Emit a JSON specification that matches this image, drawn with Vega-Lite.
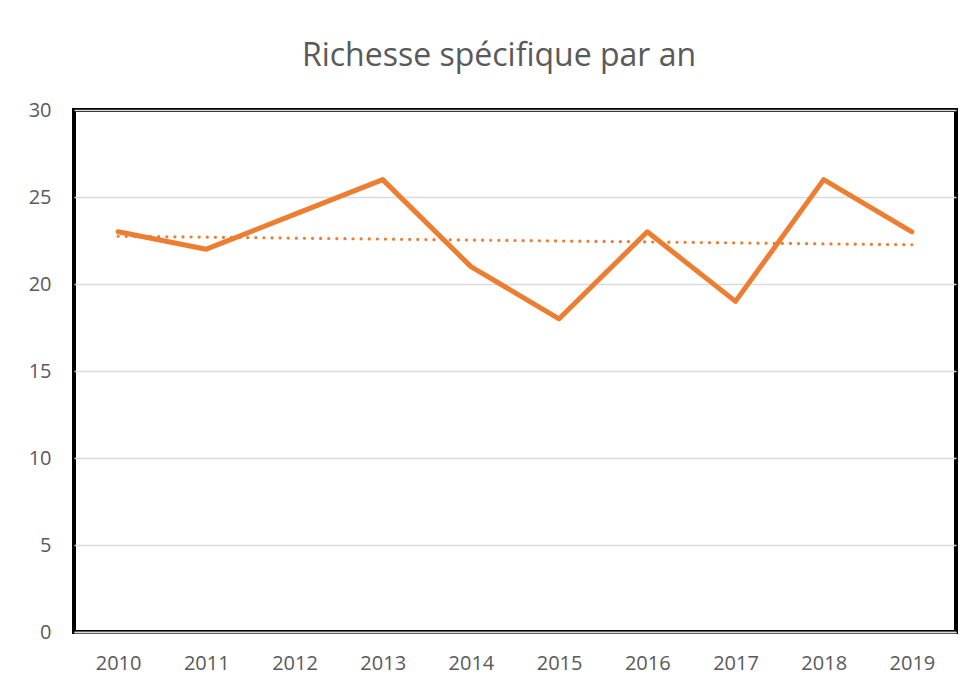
{
  "$schema": "https://vega.github.io/schema/vega-lite/v6.json",
  "autosize": {"type": "none"},
  "width": 882,
  "height": 522,
  "padding": {"left": 74, "top": 110, "right": 20, "bottom": 56},
  "background": "white",
  "title": {
    "text": "Richesse spécifique par an",
    "font": "Open Sans",
    "fontSize": 32,
    "fontWeight": "normal",
    "color": "#595959",
    "anchor": "middle",
    "frame": "group",
    "dx": -16,
    "offset": 27
  },
  "config": {
    "view": {"stroke": "black", "strokeWidth": 4},
    "axis": {
      "labelFont": "Open Sans",
      "labelFontSize": 20,
      "labelColor": "#595959",
      "ticks": false,
      "title": null
    }
  },
  "data": {
    "values": [
      {"year": 2010, "richesse": 23},
      {"year": 2011, "richesse": 22},
      {"year": 2012, "richesse": 24},
      {"year": 2013, "richesse": 26},
      {"year": 2014, "richesse": 21},
      {"year": 2015, "richesse": 18},
      {"year": 2016, "richesse": 23},
      {"year": 2017, "richesse": 19},
      {"year": 2018, "richesse": 26},
      {"year": 2019, "richesse": 23}
    ]
  },
  "layer": [
    {
      "mark": {"type": "line", "color": "#ED7D31", "strokeWidth": 5, "strokeCap": "round", "strokeJoin": "round"},
      "encoding": {
        "x": {
          "field": "year",
          "type": "ordinal",
          "scale": {"type": "point", "padding": 0.5},
          "axis": {"labelAngle": 0, "labelPadding": 21, "domain": true, "domainColor": "#d9d9d9", "domainWidth": 1.5, "grid": false}
        },
        "y": {
          "field": "richesse",
          "type": "quantitative",
          "scale": {"domain": [0, 30], "nice": false},
          "axis": {"values": [0, 5, 10, 15, 20, 25, 30], "labelPadding": 23, "domain": false, "grid": true, "gridColor": "#d9d9d9", "gridWidth": 1.3}
        }
      }
    },
    {
      "transform": [{"regression": "richesse", "on": "year"}],
      "mark": {"type": "line", "color": "#ED7D31", "strokeWidth": 3.2, "strokeCap": "round", "strokeDash": [0.1, 8]},
      "encoding": {
        "x": {"field": "year", "type": "ordinal"},
        "y": {"field": "richesse", "type": "quantitative"}
      }
    }
  ]
}
